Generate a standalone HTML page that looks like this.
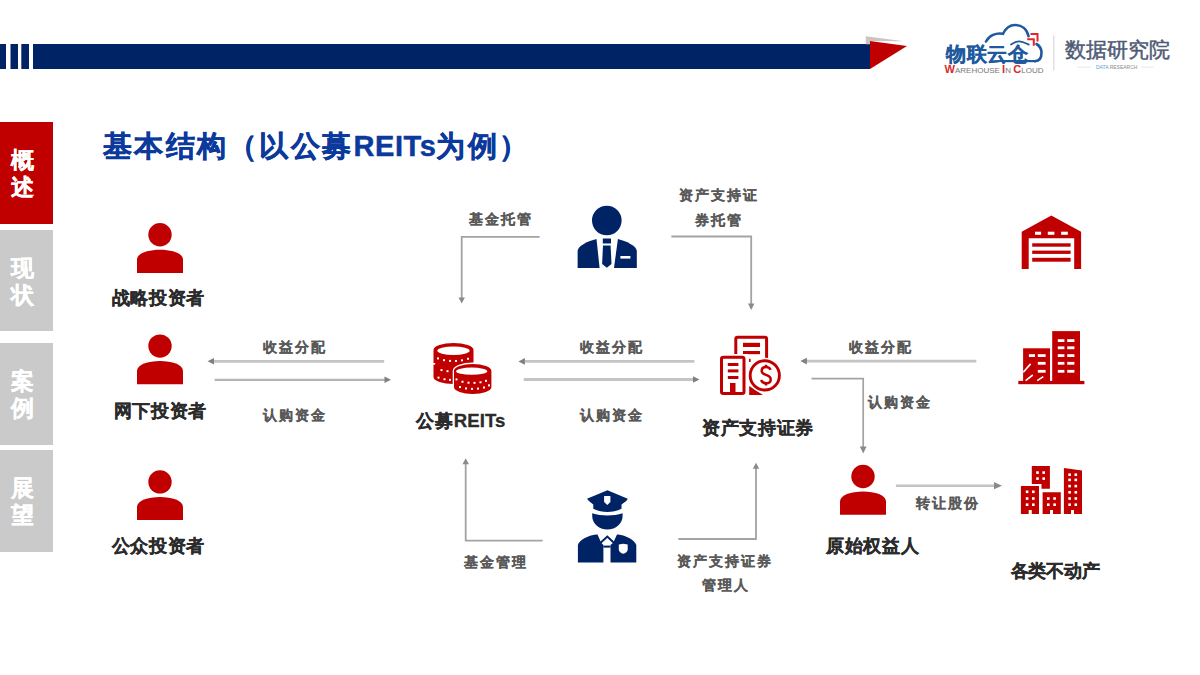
<!DOCTYPE html>
<html><head><meta charset="utf-8">
<style>
*{margin:0;padding:0;box-sizing:border-box}
html,body{width:1200px;height:675px;overflow:hidden;background:#fff;font-family:"Liberation Sans",sans-serif}
.a{position:absolute}
.t{position:absolute;white-space:nowrap;font-weight:bold;transform:translateX(-50%);line-height:1}
.s{margin-top:1.2px;font-size:14px;letter-spacing:2px;text-indent:2px;color:#5c5c5c;-webkit-text-stroke:0.2px #595959}
.m{margin-top:1.5px;font-size:17.5px;letter-spacing:0.7px;text-indent:0.7px;color:#2b2b2b;-webkit-text-stroke:0.3px #2b2b2b}
.tab{position:absolute;left:0;width:53px;color:#fff;font-weight:bold;font-size:23px;line-height:27px;padding-left:10.5px;-webkit-text-stroke:0.25px #fff}
svg{position:absolute;left:0;top:0}
</style></head><body>
<svg width="1200" height="675" viewBox="0 0 1200 675">
  
  <!-- header -->
  <rect x="0" y="44" width="870" height="25" fill="#002366"/>
  <rect x="6" y="44" width="4.5" height="25" fill="#fff"/>
  <rect x="18" y="44" width="3.3" height="25" fill="#fff"/>
  <rect x="29" y="44" width="4" height="25" fill="#fff"/>
  <polygon points="865.8,36.3 904,41.3 870,41 870,44.2 865.8,44.2" fill="#cdc3c3"/>
  <polygon points="870,41 907,46 870,69" fill="#c00000"/>


  <!-- logo -->
  <g fill="none" stroke="#1f5a9f" stroke-width="2.6" stroke-linecap="round">
    <path d="M986,41.5 C989,35.5 996,32.5 1003,33.8 C1006,27.5 1010,25 1015,25 C1022,25 1027,29.5 1028.5,36.3"/>
    <path d="M1036.5,44 C1040,46 1041.5,49 1041.5,53 C1041.5,58 1039,61 1035,61.2"/>
    <path d="M1011,44.4 C1014,42.5 1016.5,41.3 1019,41.3 C1022.5,41.3 1025.5,43 1028.7,44.6" stroke-width="1.8"/>
  </g>
  <g fill="none" stroke="#e0262b" stroke-width="2" stroke-linecap="square">
    <polyline points="1031.5,34 1037.5,34 1037.5,40.5"/>
    <polyline points="1028.2,39.2 1033.8,39.2 1033.8,44.8"/>
  </g>
    <rect x="1003" y="60" width="33" height="2.2" fill="#1f5a9f"/>
  <text x="944.5" y="72.6" font-family="Liberation Sans" fill="#777777" textLength="99" lengthAdjust="spacingAndGlyphs"><tspan fill="#d62a2a" font-size="10.5" font-weight="bold">W</tspan><tspan font-size="7.6">AREHOUSE </tspan><tspan fill="#d62a2a" font-size="10.5" font-weight="bold">I</tspan><tspan font-size="7.6">N </tspan><tspan fill="#d62a2a" font-size="10.5" font-weight="bold">C</tspan><tspan font-size="7.6">LOUD</tspan></text>
  <line x1="1053.8" y1="35.5" x2="1053.8" y2="70.5" stroke="#d9d9d9" stroke-width="1.2"/>
    <text x="1096" y="69.4" font-family="Liberation Sans" font-size="5.6" fill="#8a8a8a" textLength="41.4" lengthAdjust="spacingAndGlyphs"><tspan fill="#5b9bd5">DATA </tspan>RESEARCH</text>
  <line x1="1077" y1="67.2" x2="1091" y2="67.2" stroke="#e3e3e3" stroke-width="0.8"/>
  <line x1="1141" y1="67.2" x2="1154" y2="67.2" stroke="#e3e3e3" stroke-width="0.8"/>

  <!-- persons red -->
  <circle cx="160.0" cy="234.7" r="11.7" fill="#c00000"/><path d="M137.0,272.9 V259.7 C137.0,253.2 148.0,249.7 160.0,249.7 C172.0,249.7 183.0,253.2 183.0,259.7 V272.9 Z" fill="#c00000"/>
  <circle cx="160.0" cy="346.1" r="11.7" fill="#c00000"/><path d="M137.0,384.3 V371.1 C137.0,364.6 148.0,361.1 160.0,361.1 C172.0,361.1 183.0,364.6 183.0,371.1 V384.3 Z" fill="#c00000"/>
  <circle cx="160.0" cy="481.9" r="11.7" fill="#c00000"/><path d="M137.0,520.1 V506.9 C137.0,500.4 148.0,496.9 160.0,496.9 C172.0,496.9 183.0,500.4 183.0,506.9 V520.1 Z" fill="#c00000"/>
  <circle cx="863.0" cy="476.5" r="11.7" fill="#c00000"/><path d="M840.0,514.7 V501.5 C840.0,495.0 851.0,491.5 863.0,491.5 C875.0,491.5 886.0,495.0 886.0,501.5 V514.7 Z" fill="#c00000"/>

  <!-- arrows -->
  <g fill="none" stroke-linecap="butt">
    <line x1="384.2" y1="361.3" x2="214" y2="361.3" stroke="#c4c4c4" stroke-width="2.7"/>
    <line x1="214.7" y1="379.9" x2="385" y2="379.9" stroke="#b4b4b4" stroke-width="2.1"/>
    <line x1="694.4" y1="361.4" x2="524" y2="361.4" stroke="#c4c4c4" stroke-width="2.7"/>
    <line x1="523.7" y1="379.5" x2="694" y2="379.5" stroke="#c4c4c4" stroke-width="2.9"/>
    <line x1="976.3" y1="361.1" x2="806" y2="361.1" stroke="#c4c4c4" stroke-width="2.7"/>
    <polyline points="811.5,378.6 863.2,378.6 863.2,447.5" stroke="#a3a3a3" stroke-width="1.7"/>
    <line x1="895.9" y1="485.7" x2="995" y2="485.7" stroke="#c4c4c4" stroke-width="2.6"/>
    <polyline points="539.6,236.9 461.7,236.9 461.7,298" stroke="#a3a3a3" stroke-width="1.8"/>
    <polyline points="671.4,236.5 751.2,236.5 751.2,304" stroke="#a3a3a3" stroke-width="1.8"/>
    <polyline points="542.7,540.7 465.7,540.7 465.7,464" stroke="#a3a3a3" stroke-width="1.8"/>
    <polyline points="678.3,539 756,539 756,468" stroke="#a3a3a3" stroke-width="1.8"/>
  </g>
  <polygon points="207.5,361.3 214.0,358.0 214.0,364.6" fill="#808080"/><polygon points="391.0,379.7 384.5,376.4 384.5,383.0" fill="#808080"/><polygon points="518.4,361.4 524.9,358.1 524.9,364.7" fill="#808080"/><polygon points="699.5,379.5 693.0,376.2 693.0,382.8" fill="#808080"/><polygon points="800.4,361.1 806.9,357.8 806.9,364.4" fill="#808080"/>
  <polygon points="863.2,453.5 859.8,446.5 866.6,446.5" fill="#8a8a8a"/><polygon points="1002.0,485.7 994.0,482.1 994.0,489.3" fill="#8a8a8a"/><polygon points="461.7,303.5 458.5,297.5 464.9,297.5" fill="#8a8a8a"/><polygon points="751.2,310.0 748.0,303.5 754.4,303.5" fill="#8a8a8a"/><polygon points="465.7,458.3 462.5,464.3 468.9,464.3" fill="#8a8a8a"/><polygon points="756.0,462.7 752.8,468.7 759.2,468.7" fill="#8a8a8a"/>

  <!-- custodian (navy suit) -->
  <g fill="#002366">
    <circle cx="606.8" cy="220.5" r="14.8"/>
    <path d="M577.6,268 V251 C577.6,246 588,241 596.5,239 L599.6,268 Z"/>
    <path d="M636.8,268 V251 C636.8,246 626,241 617.9,239 L614,268 Z"/>
    <path d="M602.8,238.5 H611 V243.5 H602.8 Z"/>
    <path d="M603,245.4 H610.6 L611.5,264 L606.8,267.8 L602.1,264 Z"/>
  </g>
  <rect x="620.4" y="256" width="10" height="2.6" fill="#fff"/>

  <!-- police -->
  <g fill="#002366">
    <path d="M607.4,490.2 L627.8,498.7 L626.3,501 L621.5,504.6 V508.7 C617,511 612,512 607.4,512 C602.8,512 598,511 593.3,508.7 V504.6 L588.9,501 L587,498.7 Z"/>
    <path d="M592.2,513.2 C597,514.8 602,515.4 607.4,515.4 C612.8,515.4 618,514.8 622.6,513.2 V516 C622.6,523.5 616,529.5 607.4,529.5 C598.8,529.5 592.2,523.5 592.2,516 Z"/>
    <path d="M577.9,562.4 V545 C579,540 588,535.5 596.3,534.5 L597.5,534.5 L601.2,542.8 L603.4,545 V562.4 Z"/>
    <path d="M636.3,562.4 V545 C635,540 626,535.5 618,534.5 L617,534.5 L613.2,542.8 L610.5,545 V562.4 Z"/>
    <rect x="603.4" y="545.6" width="7.1" height="2"/>
  </g>
  <polyline points="600.6,542.8 607.3,536.6 613.9,542.8" fill="none" stroke="#002366" stroke-width="2"/>
  <path d="M604.1,496.1 H610.4 V502 L607.3,505 L604.1,502 Z" fill="#fff"/>
  <path d="M618.8,544.5 L623.2,543.8 L627.7,544.5 V549.5 C627.7,551.5 625.5,553.2 623.2,553.8 C621,553.2 618.8,551.5 618.8,549.5 Z" fill="#fff"/>

  <!-- coins -->
<path d="M433.5,350 A20,7 0 0 1 473.5,350 V377 A20,7 0 0 1 433.5,377 Z" fill="#c00000" />
<ellipse cx="453.5" cy="350.8" rx="16.2" ry="4.2" fill="#fff"/>
<rect x="432" y="363" width="3.2" height="1.6" fill="#fff"/>
<g fill="#fff"><rect x="437.00" y="357.42" width="2.0" height="2.0"/><rect x="443.00" y="359.16" width="2.0" height="2.0"/><rect x="449.00" y="359.89" width="2.0" height="2.0"/><rect x="455.00" y="359.95" width="2.0" height="2.0"/><rect x="461.00" y="359.34" width="2.0" height="2.0"/><rect x="467.00" y="357.82" width="2.0" height="2.0"/><rect x="440.50" y="369.10" width="2.0" height="2.0"/><rect x="446.50" y="370.18" width="2.0" height="2.0"/><rect x="437.50" y="376.63" width="2.0" height="2.0"/><rect x="443.50" y="378.25" width="2.0" height="2.0"/><rect x="449.00" y="378.89" width="2.0" height="2.0"/></g>
<path d="M454.0,370.8 A18.7,6.9 0 0 1 491.4,370.8 V387.0 A18.7,6.9 0 0 1 454.0,387.0 Z" fill="#c00000" stroke="#fff" stroke-width="2.6"/>
<path d="M454.0,370.8 A18.7,6.9 0 0 1 491.4,370.8 V387.0 A18.7,6.9 0 0 1 454.0,387.0 Z" fill="#c00000" />
<ellipse cx="471.7" cy="371.2" rx="15.6" ry="3.6" fill="#fff"/>
<g fill="#fff"><rect x="455.50" y="378.45" width="2.0" height="2.0"/><rect x="461.50" y="380.78" width="2.0" height="2.0"/><rect x="467.50" y="381.72" width="2.0" height="2.0"/><rect x="473.50" y="381.87" width="2.0" height="2.0"/><rect x="479.50" y="381.27" width="2.0" height="2.0"/><rect x="485.00" y="379.85" width="2.0" height="2.0"/><rect x="459.00" y="386.06" width="2.0" height="2.0"/><rect x="465.00" y="387.44" width="2.0" height="2.0"/><rect x="471.00" y="387.90" width="2.0" height="2.0"/><rect x="477.00" y="387.62" width="2.0" height="2.0"/><rect x="483.00" y="386.50" width="2.0" height="2.0"/><rect x="488.00" y="384.38" width="2.0" height="2.0"/></g>

  <!-- ABS icon -->
  <g fill="none" stroke="#c00000" stroke-width="3">
    <path d="M735.8,395 V339 Q735.8,337.2 737.6,337.2 H764.8 Q766.6,337.2 766.6,339 V362"/>
  </g>
  <g fill="#c00000">
    <rect x="743" y="342.8" width="17" height="4.2"/>
    <rect x="743" y="351" width="17" height="3.2"/>
  </g>
  <rect x="718" y="354" width="30" height="43" fill="#fff"/>
  <rect x="721.5" y="357.3" width="22.5" height="36.3" rx="1.8" fill="none" stroke="#c00000" stroke-width="3"/>
  <g fill="#c00000">
    <rect x="727.8" y="363" width="10.6" height="3"/>
    <rect x="727.8" y="369.4" width="10.6" height="3"/>
    <rect x="727.8" y="376" width="10.6" height="3"/>
    <rect x="730" y="383" width="5.5" height="11"/>
  </g>
  <path d="M749.2,386 V395 H763 Z" fill="#c00000"/>
  <rect x="749" y="358.8" width="1.6" height="3.2" fill="#c00000"/>
  <circle cx="764.8" cy="375.4" r="17.6" fill="#fff"/>
  <circle cx="764.8" cy="375.4" r="14.6" fill="none" stroke="#c00000" stroke-width="2.9"/>
  <g fill="none" stroke="#c00000" stroke-width="2.5">
    <path d="M770.6,369.9 C769.8,367.9 768,367 766,367 C763.3,367 761.7,368.6 761.7,370.8 C761.7,373.3 763.8,374.2 766,374.9 C768.5,375.7 770.7,376.7 770.7,379.4 C770.7,381.9 768.8,383.3 766,383.3 C763.6,383.3 761.8,382.2 761.1,380"/>
    <path d="M766,364.8 V367.5 M766,382.8 V385.6"/>
  </g>

  <!-- warehouse -->
  <path d="M1051.3,215.6 L1081.1,231.7 V268.9 H1074.2 V238.3 H1028.7 V268.9 H1021.7 V231.7 Z" fill="#c00000"/>
  <g fill="#fff">
    <rect x="1035" y="231.7" width="6.1" height="3.1"/>
    <rect x="1047.8" y="231.7" width="6.6" height="3.1"/>
    <rect x="1061.1" y="231.7" width="6.7" height="3.1"/>
  </g>
  <g fill="#c00000">
    <rect x="1032.2" y="243.3" width="38.4" height="3.4"/>
    <rect x="1032.2" y="250.6" width="38.4" height="3.3"/>
    <rect x="1032.2" y="257.8" width="38.4" height="3.9"/>
  </g>

  <!-- buildings 1 -->
  <g fill="#c00000">
    <rect x="1018.3" y="380.9" width="66.1" height="3.3"/>
    <rect x="1023.1" y="348.3" width="26.9" height="34"/>
    <rect x="1052.2" y="331.1" width="27.8" height="51"/>
  </g>
  <g fill="#fff">
    <rect x="1057.8" y="339.2" width="6.6" height="2.8"/><rect x="1067.2" y="339.2" width="7.2" height="2.8"/>
    <rect x="1057.8" y="346.4" width="6.6" height="2.8"/><rect x="1067.2" y="346.4" width="7.2" height="2.8"/>
    <rect x="1057.8" y="354.2" width="6.6" height="2.8"/><rect x="1067.2" y="354.2" width="7.2" height="2.8"/>
    <rect x="1057.8" y="361.9" width="6.6" height="2.8"/><rect x="1067.2" y="361.9" width="7.2" height="2.8"/>
    <rect x="1057.8" y="369.9" width="6.6" height="2.8"/><rect x="1067.2" y="369.9" width="7.2" height="2.8"/>
    <rect x="1028.9" y="354.2" width="6.1" height="2.8"/><rect x="1037.8" y="354.2" width="7.8" height="2.8"/>
    <rect x="1037.8" y="361.9" width="7.8" height="2.8"/>
    <rect x="1037.8" y="369.9" width="7.8" height="2.8"/>
  </g>
  <g stroke="#fff" stroke-width="1.6">
    <line x1="1023.3" y1="372.2" x2="1030.6" y2="363.9"/>
    <line x1="1025.6" y1="380.6" x2="1032.8" y2="375"/>
    <line x1="1037.2" y1="380.6" x2="1043.3" y2="376.7"/>
  </g>

  <!-- buildings 2 -->
  <g fill="#c00000">
    <path d="M1031.8,465.9 H1049.9 V488.7 H1041.5 V484 H1031.8 Z"/>
    <path d="M1020.9,486 H1039 V514 H1031.8 V510 H1028.7 V514 H1020.9 Z"/>
    <path d="M1042.6,492.3 H1060.8 V514 H1053 V510 H1050 V514 H1042.6 Z"/>
    <path d="M1063.9,468 L1082,470.5 V514 H1074 V510 H1071 V514 H1063.9 Z"/>
  </g>
  <g fill="#fff">
    <rect x="1036.2" y="471.3" width="2.6" height="2.6"/><rect x="1042.4" y="471.3" width="2.6" height="2.6"/>
    <rect x="1036.2" y="477.3" width="2.6" height="2.6"/><rect x="1042.4" y="477.3" width="2.6" height="2.6"/>
    <rect x="1025.8" y="490.5" width="2.6" height="2.6"/><rect x="1032" y="490.5" width="2.6" height="2.6"/>
    <rect x="1025.8" y="497.2" width="2.6" height="2.6"/><rect x="1032" y="497.2" width="2.6" height="2.6"/>
    <rect x="1025.8" y="503.4" width="2.6" height="2.6"/><rect x="1032" y="503.4" width="2.6" height="2.6"/>
    <rect x="1047" y="497.2" width="2.6" height="2.6"/><rect x="1053.3" y="497.2" width="2.6" height="2.6"/>
    <rect x="1047" y="503.4" width="2.6" height="2.6"/><rect x="1053.3" y="503.4" width="2.6" height="2.6"/>
    <rect x="1068.3" y="473.4" width="2.6" height="2.6"/><rect x="1074.5" y="473.4" width="2.6" height="2.6"/>
    <rect x="1068.3" y="478.6" width="2.6" height="2.6"/><rect x="1074.5" y="478.6" width="2.6" height="2.6"/>
    <rect x="1068.3" y="484.8" width="2.6" height="2.6"/><rect x="1074.5" y="484.8" width="2.6" height="2.6"/>
    <rect x="1068.3" y="491" width="2.6" height="2.6"/><rect x="1074.5" y="491" width="2.6" height="2.6"/>
    <rect x="1068.3" y="497.2" width="2.6" height="2.6"/><rect x="1074.5" y="497.2" width="2.6" height="2.6"/>
    <rect x="1068.3" y="503.4" width="2.6" height="2.6"/><rect x="1074.5" y="503.4" width="2.6" height="2.6"/>
  </g>
</svg>

<div class="a" style="left:946px;top:44.5px;font-size:19.5px;letter-spacing:0.6px;font-weight:bold;color:#1f5a9f;white-space:nowrap;line-height:1;-webkit-text-stroke:0.3px #1f5a9f">物联云仓</div>
<div class="a" style="left:1064.5px;top:39.5px;font-size:20.5px;letter-spacing:0px;font-weight:normal;color:#4f5b76;-webkit-text-stroke:0.5px #4f5b76;white-space:nowrap;line-height:1;">数据研究院</div>
<!-- title -->
<div class="a" style="left:103px;top:131.5px;font-size:29px;letter-spacing:2.3px;font-weight:bold;color:#0b3a9c;white-space:nowrap;line-height:1;-webkit-text-stroke:0.45px #0b3a9c">基本结构（以公募<span style="letter-spacing:0.6px">REITs</span>为例）</div>
<!-- tabs -->
<div class="tab" style="top:122.4px;height:101.2px;background:#c00000;padding-top:24.5px">概<br>述</div>
<div class="tab" style="top:230px;height:101px;background:#cacaca;padding-top:24.5px">现<br>状</div>
<div class="tab" style="top:343px;height:102px;background:#cacaca;padding-top:24.5px">案<br>例</div>
<div class="tab" style="top:450px;height:102px;background:#cacaca;padding-top:24.5px">展<br>望</div>

<!-- labels -->
<div class="t m" style="left:158px;top:288px">战略投资者</div>
<div class="t m" style="left:160px;top:401px">网下投资者</div>
<div class="t m" style="left:158px;top:536.5px">公众投资者</div>
<div class="t m" style="left:460.5px;top:410px">公募<span style="font-size:18.6px;letter-spacing:0.1px">REITs</span></div>
<div class="t m" style="left:757.6px;top:418.5px">资产支持证券</div>
<div class="t m" style="left:872.5px;top:536.5px">原始权益人</div>
<div class="t m" style="left:1055.2px;top:561.5px;letter-spacing:-0.3px;text-indent:-0.3px">各类不动产</div>

<div class="t s" style="left:293.7px;top:339px">收益分配</div>
<div class="t s" style="left:293.7px;top:407px">认购资金</div>
<div class="t s" style="left:611.2px;top:338.5px">收益分配</div>
<div class="t s" style="left:611.2px;top:406.5px">认购资金</div>
<div class="t s" style="left:880px;top:339px">收益分配</div>
<div class="t s" style="left:898.8px;top:394px">认购资金</div>
<div class="t s" style="left:946.6px;top:494.5px">转让股份</div>
<div class="t s" style="left:500.4px;top:211.3px">基金托管</div>
<div class="t s" style="left:717.8px;top:187.1px">资产支持证</div>
<div class="t s" style="left:717.5px;top:211.5px">券托管</div>
<div class="t s" style="left:494.7px;top:554px">基金管理</div>
<div class="t s" style="left:724.2px;top:553px">资产支持证券</div>
<div class="t s" style="left:725px;top:577px">管理人</div>
</body></html>
